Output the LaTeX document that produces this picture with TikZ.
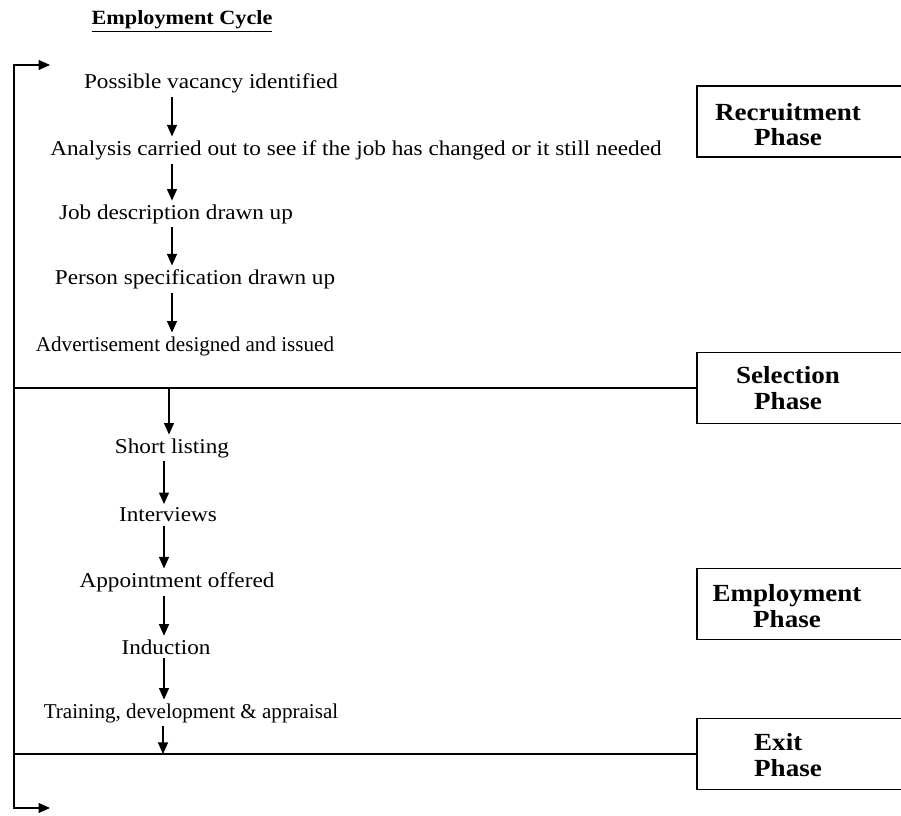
\documentclass[tikz,border=0pt]{standalone}
\usepackage{fontspec}
\setmainfont{Liberation Serif}
\newfontfamily\diagfont[FakeStretch=1.1]{Liberation Serif}
\usetikzlibrary{arrows.meta}
\begin{document}
\begin{tikzpicture}[
  stagetext/.style={inner sep=2pt,font=\diagfont\fontsize{12}{14}\selectfont},
  phasebox/.style={draw,line width=0.9pt,anchor=west,minimum width=4.4cm,minimum height=1.42cm},
  phasetext/.style={font=\diagfont\fontsize{14}{14.5}\selectfont\bfseries,align=center},
  flow/.style={-{Triangle[length=2.3mm,width=2mm]},line width=0.7pt}
]
  \useasboundingbox (0,0) rectangle (18.02,16.32);

  % Title
  \node[font=\diagfont\fontsize{11.5}{13}\selectfont\bfseries] (title) at (3.64,15.90)
    {\underline{Employment Cycle}};

  % Loop back on the left
  \coordinate (loopin)  at (1.0,15.02);
  \coordinate (looptop) at (0.28,15.02);
  \coordinate (loopbot) at (0.28,0.16);
  \coordinate (loopout) at (1.0,0.16);
  \draw[flow,{Triangle[length=2.3mm,width=2mm]}-{Triangle[length=2.3mm,width=2mm]}]
    (loopin) -- (looptop) -- (loopbot) -- (loopout);

  % Phase boxes
  \node[phasebox] (recbox) at (13.92,13.89) {};
  \node[phasetext] (rectext) at (15.76,13.83) {Recruitment\\Phase};
  \node[phasebox] (selbox) at (13.92,8.56) {};
  \node[phasetext] (seltext) at (15.76,8.56) {Selection\\Phase};
  \node[phasebox] (empbox) at (13.92,4.24) {};
  \node[phasetext] (emptext) at (15.74,4.20) {Employment\\Phase};
  \node[phasebox] (exitbox) at (13.92,1.24) {};
  \node[phasetext,align=left] (exittext) at (15.76,1.22) {Exit\\Phase};

  % Phase dividers
  \coordinate (seljoin)  at (0.28,8.56);
  \coordinate (exitjoin) at (0.28,1.24);
  \draw[line width=0.7pt] (seljoin) -- (selbox.west);
  \draw[line width=0.7pt] (exitjoin) -- (exitbox.west);

  % Recruitment steps
  \node[stagetext] (vac)    at (4.22,14.66) {Possible vacancy identified};
  \node[stagetext] (ana)    at (7.12,13.32) {Analysis carried out to see if the job has changed or it still needed};
  \node[stagetext] (jobd)   at (3.52,12.04) {Job description drawn up};
  \node[stagetext] (pspec)  at (3.90,10.74) {Person specification drawn up};
  \node[stagetext,font=\rmfamily\fontsize{12}{14}\selectfont] (advert) at (3.70,9.40)
    {Advertisement designed and issued};

  \coordinate (ax) at (3.44,0);
  \draw[flow] (vac.south -| ax)   -- (ana.north -| ax);
  \draw[flow] (ana.south -| ax)   -- (jobd.north -| ax);
  \draw[flow] (jobd.south -| ax)  -- (pspec.north -| ax);
  \draw[flow] (pspec.south -| ax) -- (advert.north -| ax);

  % Selection and employment steps
  \node[stagetext] (short)  at (3.44,7.36) {Short listing};
  \node[stagetext] (interv) at (3.36,6.02) {Interviews};
  \node[stagetext] (appt)   at (3.54,4.68) {Appointment offered};
  \node[stagetext] (induct) at (3.32,3.38) {Induction};
  \node[stagetext,font=\rmfamily\fontsize{12}{14}\selectfont] (train) at (3.82,2.06)
    {Training, development \& appraisal};

  \coordinate (bx) at (3.38,8.56);
  \coordinate (cx) at (3.28,0);
  \coordinate (dx) at (3.26,1.24);
  \draw[flow] (bx) -- (short.north -| bx);
  \draw[flow] (short.south -| cx)  -- (interv.north -| cx);
  \draw[flow] (interv.south -| cx) -- (appt.north -| cx);
  \draw[flow] (appt.south -| cx)   -- (induct.north -| cx);
  \draw[flow] (induct.south -| cx) -- (train.north -| cx);
  \draw[flow] (train.south -| dx)  -- (dx);
\end{tikzpicture}
\end{document}
